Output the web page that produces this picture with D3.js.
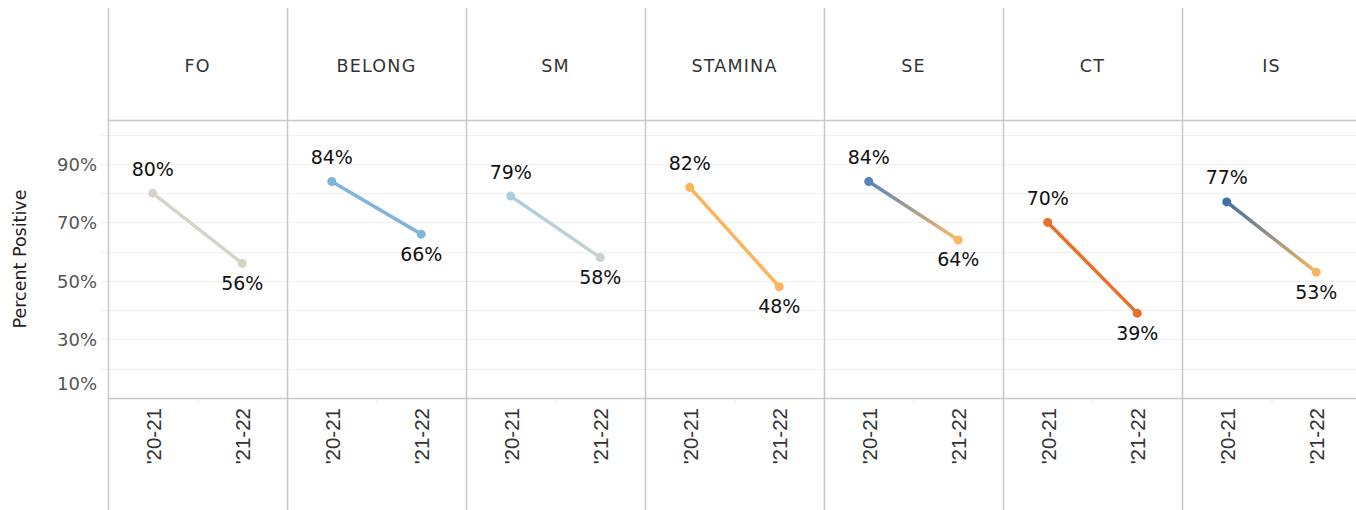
<!DOCTYPE html>
<html>
<head>
<meta charset="utf-8">
<script src="https://cdn.jsdelivr.net/npm/d3@7"></script>
<style>
  html, body { margin: 0; padding: 0; background: #fff; }
  svg { display: block; }
  text { font-family: "DejaVu Sans", "Open Sans", sans-serif; }
  text.xl { font-family: "Liberation Sans", Arial, sans-serif; }
</style>
</head>
<body>
<svg id="chart" width="1356" height="510"></svg>
<script>
// Survey measures, one small panel each
const measures = ["FO", "BELONG", "SM", "STAMINA", "SE", "CT", "IS"];
const years = ["'20-21", "'21-22"];
const values2021 = [80, 84, 79, 82, 84, 70, 77];
const values2122 = [56, 66, 58, 48, 64, 39, 53];
const startColors = ["#d8d3c8", "#7fb5db", "#a9cde0", "#fdb45d", "#5585bb", "#e8702a", "#3f70a7"];
const endColors   = ["#d8d3c8", "#7fb5db", "#c9d3cd", "#fdb45d", "#fdb866", "#e8702a", "#f8b55d"];
const yTicks = [90, 70, 50, 30, 10];
const yGrid = [100, 90, 80, 70, 60, 50, 40, 30, 20];

const svg = d3.select("#chart");
const left = 108, panelW = 179;
const frameTop = 8, headerBottom = 120, plotBottom = 398, frameBottom = 510;

const panelX = d3.scaleBand().domain(measures).range([left, left + panelW * measures.length]);
const y = d3.scaleLinear().domain([10, 105]).range([plotBottom, headerBottom]);
const xIn = d3.scaleBand().domain(years).range([0, panelW]);

const lineCol = "#c8c8c8";

// gridlines across the plot area
svg.append("g").selectAll("line").data(yGrid).join("line")
  .attr("x1", 100).attr("x2", 1356)
  .attr("y1", d => Math.round(y(d)) + 0.5).attr("y2", d => Math.round(y(d)) + 0.5)
  .attr("stroke", "#f0f0f0").attr("stroke-width", 1);

// header and axis rules
svg.append("line").attr("x1", left).attr("x2", 1356).attr("y1", headerBottom + 0.5).attr("y2", headerBottom + 0.5)
  .attr("stroke", lineCol).attr("stroke-width", 1.5);
svg.append("line").attr("x1", left).attr("x2", 1356).attr("y1", plotBottom + 0.5).attr("y2", plotBottom + 0.5)
  .attr("stroke", lineCol).attr("stroke-width", 1.5);

// y axis labels
const yAxis = svg.append("g").attr("transform", `translate(97,0)`)
  .call(d3.axisLeft(y).tickValues(yTicks).tickSize(0).tickPadding(0).tickFormat(d => d + "%"));
yAxis.select(".domain").remove();
yAxis.selectAll("text")
  .attr("font-size", 18).attr("fill", "#555")
  .attr("dy", d => d === 10 ? "-0.45em" : "0.35em");

svg.append("text")
  .attr("transform", `translate(26,${(headerBottom + plotBottom) / 2}) rotate(-90)`)
  .attr("text-anchor", "middle").attr("font-size", 17.5).attr("fill", "#222")
  .text("Percent Positive");

const defs = svg.append("defs");
const line = d3.line().x(d => d.x).y(d => d.y);

measures.forEach((m, i) => {
  const x0 = panelX(m);
  const g = svg.append("g").attr("transform", `translate(${x0},0)`);

  // panel divider
  g.append("line").attr("x1", 0.5).attr("x2", 0.5).attr("y1", frameTop).attr("y2", frameBottom)
    .attr("stroke", lineCol).attr("stroke-width", 1.5);

  // small separator tick between the two year columns
  g.append("line").attr("x1", xIn.bandwidth() + 0.5).attr("x2", xIn.bandwidth() + 0.5)
    .attr("y1", plotBottom + 1).attr("y2", plotBottom + 6).attr("stroke", "#eeeeee");

  // header text
  g.append("text").attr("x", panelW / 2).attr("y", 67)
    .attr("text-anchor", "middle").attr("dominant-baseline", "middle")
    .attr("font-size", 17.5).attr("fill", "#333").attr("letter-spacing", "1.2px").text(m);

  // x tick labels
  g.selectAll("text.xl").data(years).join("text").attr("class", "xl")
    .attr("transform", d => `translate(${xIn(d) + xIn.bandwidth() / 2 + 8},408) rotate(-90)`)
    .attr("text-anchor", "end").attr("font-size", 20.5).attr("fill", "#333")
    .text(d => d);

  const pts = [
    { x: xIn(years[0]) + xIn.bandwidth() / 2, y: y(values2021[i]), v: values2021[i], c: startColors[i] },
    { x: xIn(years[1]) + xIn.bandwidth() / 2, y: y(values2122[i]), v: values2122[i], c: endColors[i] }
  ];

  const gid = "grad" + i;
  const grad = defs.append("linearGradient").attr("id", gid)
    .attr("gradientUnits", "userSpaceOnUse")
    .attr("x1", x0 + pts[0].x).attr("y1", pts[0].y).attr("x2", x0 + pts[1].x).attr("y2", pts[1].y);
  grad.append("stop").attr("offset", "0%").attr("stop-color", startColors[i]);
  grad.append("stop").attr("offset", "100%").attr("stop-color", endColors[i]);

  svg.append("path").datum(pts.map(p => ({ x: x0 + p.x, y: p.y })))
    .attr("d", line).attr("fill", "none")
    .attr("stroke", `url(#${gid})`).attr("stroke-width", 3.5).attr("stroke-linecap", "round");

  g.selectAll("circle").data(pts).join("circle")
    .attr("cx", d => d.x).attr("cy", d => d.y).attr("r", 4.5).attr("fill", d => d.c);

  // value labels: above the first point, below the second
  g.selectAll("text.val").data(pts).join("text").attr("class", "val")
    .attr("x", d => d.x).attr("y", (d, j) => j === 0 ? d.y - 23 : d.y + 21)
    .attr("text-anchor", "middle").attr("dominant-baseline", "middle")
    .attr("font-size", 19).attr("fill", "#111")
    .text(d => d.v + "%");
});
</script>
</body>
</html>
